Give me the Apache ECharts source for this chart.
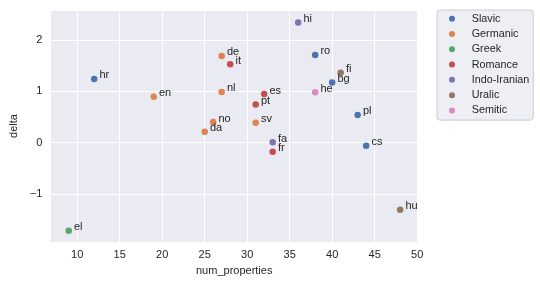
<!DOCTYPE html>
<html>
<head>
<meta charset="utf-8">
<script src="https://cdn.jsdelivr.net/npm/echarts@6/dist/echarts.min.js"></script>
<style>
html,body{margin:0;padding:0;background:#fff;}
#chart{width:540px;height:281px;}
</style>
</head>
<body>
<div id="chart"></div>
<script>
// Data
const languages = ['hr','ro','bg','pl','cs','en','de','nl','no','sv','da','el','it','es','pt','fr','hi','fa','fi','hu','he'];
const families  = ['Slavic','Slavic','Slavic','Slavic','Slavic','Germanic','Germanic','Germanic','Germanic','Germanic','Germanic','Greek','Romance','Romance','Romance','Romance','Indo-Iranian','Indo-Iranian','Uralic','Uralic','Semitic'];
const numProperties = [12,38,40,43,44,19,27,27,26,31,25,9,28,32,31,33,36,33,41,48,38];
const deltaValues   = [1.24,1.71,1.17,0.54,-0.06,0.895,1.69,0.985,0.40,0.385,0.21,-1.72,1.525,0.945,0.745,-0.18,2.34,0.005,1.36,-1.31,0.98];
const familyNames = ['Slavic','Germanic','Greek','Romance','Indo-Iranian','Uralic','Semitic'];
const familyColors = ['#4C72B0','#DD8452','#55A868','#C44E52','#8172B3','#937860','#DA8BC3'];

const FONT = '"Liberation Sans", Arial, sans-serif';
const TXT = '#262626';

const series = familyNames.map((fam, fi) => {
  const data = [];
  languages.forEach((lang, i) => {
    if (families[i] === fam) data.push({ value: [numProperties[i], deltaValues[i]], name: lang });
  });
  return {
    name: fam,
    type: 'scatter',
    data: data,
    symbol: 'circle',
    symbolSize: 6.5,
    itemStyle: { color: familyColors[fi], opacity: 1 },
    label: {
      show: true,
      position: 'right',
      distance: 2,
      offset: [0, -3.6],
      formatter: p => p.name,
      color: TXT,
      fontFamily: FONT,
      fontSize: 11
    },
    emphasis: { disabled: true },
    z: 3
  };
});

const minusFmt = v => String(v).replace('-', '\u2212');

const chart = echarts.init(document.getElementById('chart'), null, { renderer: 'canvas' });
chart.setOption({
  animation: false,
  backgroundColor: '#ffffff',
  grid: {
    left: 41, top: 10, right: 122, bottom: 38,
    show: true, backgroundColor: '#EAEAF2', borderWidth: 0
  },
  xAxis: {
    type: 'value',
    min: 6.85, max: 50.1,
    splitNumber: 9,
    name: 'num_properties',
    nameLocation: 'middle',
    nameGap: 17,
    nameTextStyle: { color: TXT, fontFamily: FONT, fontSize: 11 },
    axisLine: { show: false },
    axisTick: { show: false },
    axisLabel: { color: TXT, fontFamily: FONT, fontSize: 11, margin: 7, showMinLabel: false, showMaxLabel: false, formatter: minusFmt },
    splitLine: { show: true, lineStyle: { color: '#ffffff', width: 1 } }
  },
  yAxis: {
    type: 'value',
    min: -1.94, max: 2.585,
    splitNumber: 5,
    name: 'delta',
    nameLocation: 'middle',
    nameGap: 29,
    nameTextStyle: { color: TXT, fontFamily: FONT, fontSize: 11 },
    axisLine: { show: false },
    axisTick: { show: false },
    axisLabel: { color: TXT, fontFamily: FONT, fontSize: 11, margin: 8, showMinLabel: false, showMaxLabel: false, formatter: minusFmt },
    splitLine: { show: true, lineStyle: { color: '#ffffff', width: 1 } }
  },
  legend: {
    orient: 'vertical',
    left: 437, top: 10,
    padding: [1, 4, 2, 12],
    itemGap: 0,
    itemWidth: 6, itemHeight: 6,
    icon: 'circle',
    backgroundColor: '#EEEEF5',
    borderColor: '#cccccc',
    borderWidth: 1,
    borderRadius: 3,
    data: familyNames,
    selectedMode: false,
    textStyle: { color: TXT, fontFamily: FONT, fontSize: 10.8, lineHeight: 15.3, padding: [0, 0, 0, 11.7] }
  },
  series: series
});
</script>
</body>
</html>
